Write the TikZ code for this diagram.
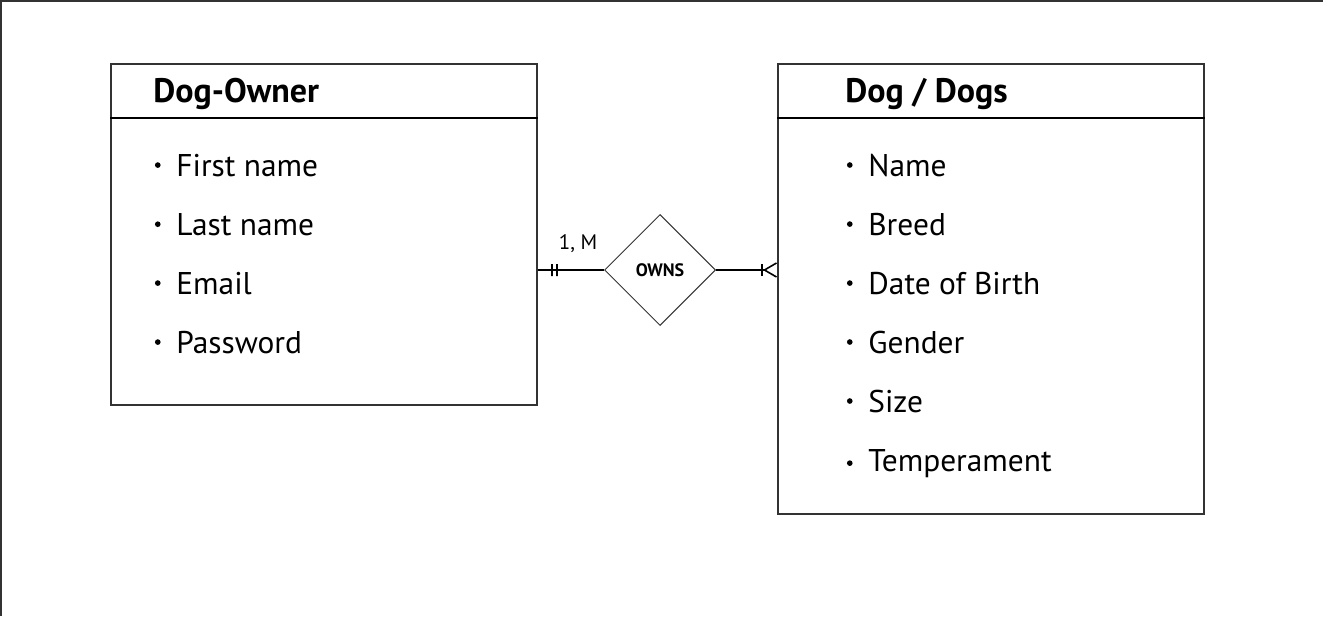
\documentclass[tikz,border=0pt]{standalone}
\usepackage{fontspec}
\setmainfont{PT Sans}
\usetikzlibrary{positioning,shapes.geometric,arrows.meta}
\definecolor{framegray}{HTML}{333333}
\tikzset{
	entity/.style={draw=framegray, line width=0.7pt, rectangle, minimum width=213pt},
	title/.style={anchor=base west, inner sep=0pt, font=\fontsize{17}{19}\selectfont\bfseries},
	item/.style={anchor=base west, inner sep=0pt, font=\fontsize{15.7}{17}\selectfont,
			label={[circle, fill, inner sep=1pt, label distance=7.5pt]left:{}}},
	tick/.style={draw, rectangle, inner sep=0pt, minimum width=0pt, minimum height=6pt, line width=0.8pt}
}

\begin{document}
\begin{tikzpicture}[x=0.5pt, y=-0.5pt]
	\useasboundingbox (0,0) rectangle (1323,616);
	\draw[framegray, line width=1pt] (1,616) -- (1,1) -- (1323,1);

	% entities
	\node[entity, minimum height=170.5pt] (owner) at (324,234.5) {};
	\node[entity, minimum height=225pt] (dog) at (991,289) {};
	\draw[line width=1pt] (owner.west |- 0,118) -- (owner.east |- 0,118);
	\draw[line width=1pt] (dog.west |- 0,118) -- (dog.east |- 0,118);
	\node[title] (ownertitle) at (153,102) {Dog-Owner};
	\node[title] (dogtitle) at (845,102) {Dog / Dogs};

	\foreach \t [count=\i] in {First name, Last name, Email, Password}
		\node[item] (o\i) at (176,117+59*\i) {\t};
	\foreach \t [count=\i] in {Name, Breed, Date of Birth, Gender, Size, Temperament}
		\node[item] (d\i) at (868,117+59*\i) {\t};

	% relationship
	\node[diamond, draw=framegray, line width=0.5pt, aspect=1, minimum size=55.5pt, inner sep=0pt,
		font=\fontsize{9}{10}\selectfont\bfseries] (owns) at (660,270) {OWNS};
	\draw[line width=0.8pt] (owner.east |- owns.west) -- node[pos=.22, tick]{} node[pos=.29, tick]{} (owns.west);
	\draw[line width=0.8pt, -{Bar[width=6pt] Straight Barb[reversed, length=6pt, width=7pt, line width=0.8pt]}]
		(owns.east) -- (dog.west |- owns.east);
	\node[font=\fontsize{10.5}{12}\selectfont] (card) at (578,244) {1, M};
\end{tikzpicture}
\end{document}
